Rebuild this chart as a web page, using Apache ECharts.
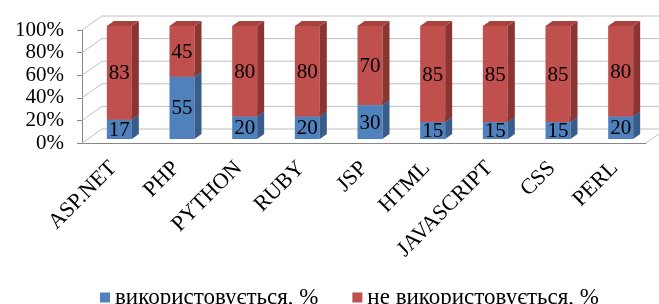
<!DOCTYPE html>
<html>
<head>
<meta charset="utf-8">
<script src="https://cdn.jsdelivr.net/npm/echarts@6/dist/echarts.min.js"></script>
<style>
html, body { margin: 0; padding: 0; background: #fff; }
#chart { width: 659px; height: 304px; }
</style>
</head>
<body>
<div id="chart"></div>
<script>
const categories = ['ASP.NET', 'PHP', 'PYTHON', 'RUBY', 'JSP', 'HTML', 'JAVASCRIPT', 'CSS', 'PERL'];
const used = [17, 55, 20, 20, 30, 15, 15, 15, 20];
const unused = [83, 45, 80, 80, 70, 85, 85, 85, 80];
const yTicks = [0, 20, 40, 60, 80, 100];
const seriesNames = ['використовується, %', 'не використовується, %'];

// fake 3d: back wall offset, bar depth offset
const WALL_DX = 20, WALL_DY = -14;
const SHIFT_X = 6, SHIFT_Y = -4;
const BAR_W = 25, SIDE_DX = 7, SIDE_DY = -5;
const FONT = '"Liberation Serif", "Times New Roman", serif';

const chart = echarts.init(document.getElementById('chart'));

function wallItem(params, api) {
    const cs = params.coordSys;
    const v = api.value(1);
    const y = api.coord([0, v])[1];
    const children = [{
        type: 'polyline',
        shape: { points: [[cs.x, y], [cs.x + WALL_DX, y + WALL_DY], [cs.x + cs.width + WALL_DX, y + WALL_DY]] },
        style: { stroke: '#bfbfbf', lineWidth: 1, fill: null }
    }];
    if (v === 0) {
        children.push({
            type: 'line',
            shape: { x1: cs.x + cs.width, y1: y, x2: cs.x + cs.width + WALL_DX, y2: y + WALL_DY },
            style: { stroke: '#bfbfbf', lineWidth: 1 }
        });
    }
    return { type: 'group', children: children };
}

function barItem(front, side, topColor) {
    return function (params, api) {
        const i = api.value(0);
        const base = api.value(1), top = api.value(2);
        const cx = api.coord([i, 0])[0] + SHIFT_X;
        const yb = api.coord([i, base])[1] + SHIFT_Y;
        const yt = api.coord([i, top])[1] + SHIFT_Y;
        const x0 = cx - BAR_W / 2, x1 = cx + BAR_W / 2;
        const children = [
            {
                type: 'rect',
                shape: { x: x0, y: yt, width: BAR_W, height: yb - yt },
                style: { fill: front }
            },
            {
                type: 'polygon',
                shape: { points: [[x1, yb], [x1 + SIDE_DX, yb + SIDE_DY], [x1 + SIDE_DX, yt + SIDE_DY], [x1, yt]] },
                style: { fill: side }
            }
        ];
        if (topColor) {
            children.push({
                type: 'polygon',
                shape: { points: [[x0, yt], [x0 + SIDE_DX, yt + SIDE_DY], [x1 + SIDE_DX, yt + SIDE_DY], [x1, yt]] },
                style: { fill: topColor }
            });
        }
        children.push({
            type: 'text',
            x: cx,
            y: (yb + yt) / 2 + 1,
            style: {
                text: String(top - base),
                fill: '#000',
                fontSize: 21,
                fontFamily: FONT,
                align: 'center',
                verticalAlign: 'middle'
            }
        });
        return { type: 'group', children: children };
    };
}

chart.setOption({
    animation: false,
    grid: {
        left: 82,
        right: 13,
        top: 30,
        bottom: 161
    },
    legend: {
        data: seriesNames,
        left: 95,
        top: 281,
        icon: 'rect',
        itemWidth: 10,
        itemHeight: 10,
        itemGap: 34,
        textStyle: { color: '#000', fontSize: 23, fontFamily: FONT }
    },
    xAxis: {
        type: 'category',
        data: categories,
        axisLine: { lineStyle: { color: '#868686' } },
        axisTick: { length: 5, lineStyle: { color: '#868686' } },
        axisLabel: {
            interval: 0,
            rotate: 45,
            margin: 22,
            color: '#000',
            fontSize: 22,
            fontFamily: FONT
        },
        splitLine: { show: false }
    },
    yAxis: {
        type: 'value',
        min: 0,
        max: 100,
        interval: 20,
        axisLine: { show: true, lineStyle: { color: '#868686' } },
        axisTick: { show: true, length: 5, lineStyle: { color: '#868686' } },
        axisLabel: {
            formatter: '{value}%',
            margin: 18,
            color: '#000',
            fontSize: 21,
            fontFamily: FONT
        },
        splitLine: { show: false }
    },
    series: [
        {
            name: 'wall',
            type: 'custom',
            silent: true,
            renderItem: wallItem,
            encode: { x: 0, y: 1 },
            data: yTicks.map(v => [0, v]),
            z: 1
        },
        {
            name: seriesNames[0],
            type: 'custom',
            renderItem: barItem('#4f81bd', '#385d8a', '#4a76ad'),
            itemStyle: { color: '#4f81bd' },
            encode: { x: 0, y: 2 },
            data: used.map((v, i) => [i, 0, v]),
            z: 2
        },
        {
            name: seriesNames[1],
            type: 'custom',
            renderItem: barItem('#c0504d', '#8b3532', '#a8423f'),
            itemStyle: { color: '#c0504d' },
            encode: { x: 0, y: 2 },
            data: unused.map((v, i) => [i, used[i], used[i] + v]),
            z: 3
        }
    ]
})

window.addEventListener('resize', () => {
    chart.resize()
})
</script>
</body>
</html>
